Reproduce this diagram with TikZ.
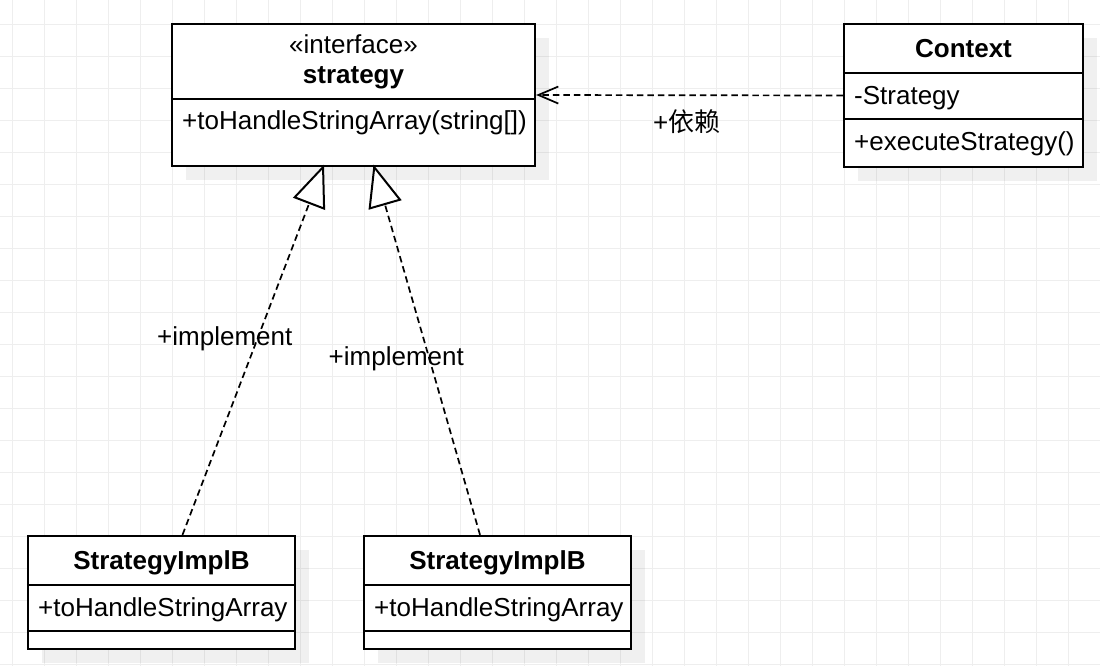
\documentclass[tikz,border=0pt]{standalone}
\usepackage{fontspec}
\setmainfont{Liberation Sans}
\newfontfamily\cjk{Noto Sans CJK SC}
\usetikzlibrary{arrows.meta,calc,shadows}
\definecolor{gridc}{RGB}{238,238,238}
\begin{document}
\begin{tikzpicture}[x=1pt,y=-1pt,
  gridline/.style={draw=gridc,line width=0.9pt},
  umlbox/.style={draw=black,line width=2.3pt,fill=white,inner sep=0pt,
    drop shadow={shadow xshift=14pt,shadow yshift=-14pt,opacity=0.06,fill=black}},
  sepline/.style={draw=black,line width=2.3pt},
  txt/.style={inner sep=0pt,font=\fontsize{26}{31}\selectfont},
  btxt/.style={inner sep=0pt,font=\fontsize{26}{31}\selectfont\bfseries},
  dashline/.style={draw=black,line width=1.7pt,dash pattern=on 6.5pt off 4pt}]
% background and grid
\fill[white] (0,0) rectangle (1100,666);
\useasboundingbox (0,0) rectangle (1100,666);
\foreach \x in {12,44,...,1100} \draw[gridline] (\x,0) -- (\x,666);
\foreach \y in {24,56,...,666} \draw[gridline] (0,\y) -- (1100,\y);
% boxes
\node[umlbox,minimum width=363pt,minimum height=142pt] (strat) at (353.5,95) {};
\node[umlbox,minimum width=239pt,minimum height=143pt] (ctx) at (963.5,95.5) {};
\node[umlbox,minimum width=267pt,minimum height=113pt] (impl1) at (161.5,592.5) {};
\node[umlbox,minimum width=267pt,minimum height=113pt] (impl2) at (497.5,592.5) {};
% separators
\draw[sepline] ($(strat.north west)+(0,76)$) -- ($(strat.north east)+(0,76)$);
\draw[sepline] ($(ctx.north west)+(0,50)$) -- ($(ctx.north east)+(0,50)$);
\draw[sepline] ($(ctx.north west)+(0,96)$) -- ($(ctx.north east)+(0,96)$);
\draw[sepline] ($(impl1.north west)+(0,50)$) -- ($(impl1.north east)+(0,50)$);
\draw[sepline] ($(impl1.north west)+(0,96)$) -- ($(impl1.north east)+(0,96)$);
\draw[sepline] ($(impl2.north west)+(0,50)$) -- ($(impl2.north east)+(0,50)$);
\draw[sepline] ($(impl2.north west)+(0,96)$) -- ($(impl2.north east)+(0,96)$);
% texts
\node[txt,anchor=base] (stereo) at (353.5,54) {«interface»};
\node[btxt,anchor=base] (stitle) at (353.5,84) {strategy};
\node[txt,anchor=base west] (sop) at (182,129.5) {+toHandleStringArray(string[])};
\node[btxt,anchor=base] (ctitle) at (963.5,57.5) {Context};
\node[txt,anchor=base west] (cattr) at (854,105) {-Strategy};
\node[txt,anchor=base west] (cop) at (854,150) {+executeStrategy()};
\node[btxt,anchor=base] (i1title) at (161.5,569.5) {StrategyImplB};
\node[txt,anchor=base west] (i1op) at (38,616) {+toHandleStringArray};
\node[btxt,anchor=base] (i2title) at (497.5,569.5) {StrategyImplB};
\node[txt,anchor=base west] (i2op) at (374,616) {+toHandleStringArray};
% connectors
\draw[dashline,-{Straight Barb[length=20pt,width=17pt,line width=1.7pt]}] (ctx.west) -- (strat.east);
\draw[dashline,-{Triangle[length=42pt,width=34pt,line width=2pt,fill=white]}]
  ($(impl1.north)+(21,0)$) -- ($(strat.south)+(-29.5,-2.5)$);
\draw[dashline,-{Triangle[length=42pt,width=34pt,line width=2pt,fill=white]}]
  ($(impl2.north)+(-17.5,0)$) -- ($(strat.south)+(20,-2.5)$);
% labels
\node[txt,anchor=base west] (ldep) at (653,131.5) {+{\cjk 依赖}};
\node[txt,anchor=base west] (limp1) at (157,345) {+implement};
\node[txt,anchor=base west] (limp2) at (328.5,365) {+implement};
\end{tikzpicture}
\end{document}
